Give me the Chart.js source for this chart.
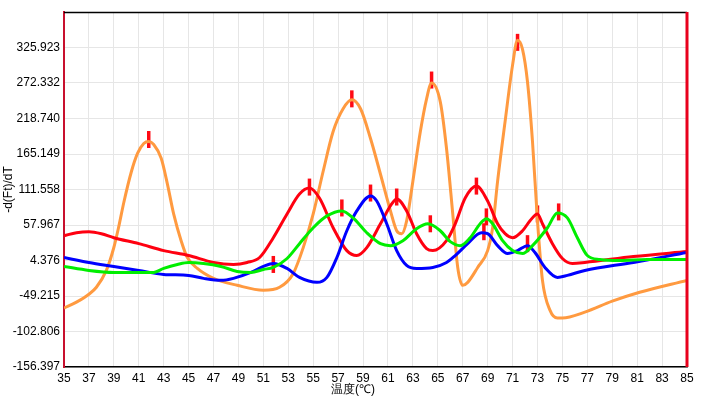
<!DOCTYPE html>
<html>
<head>
<meta charset="utf-8">
<script src="https://cdn.jsdelivr.net/npm/chart.js@4/dist/chart.umd.min.js"></script>
<style>
html,body{margin:0;padding:0;background:#fff;}
#wrap{width:706px;height:398px;position:relative;}
</style>
</head>
<body>
<div id="wrap"><canvas id="c" width="706" height="398"></canvas></div>
<script>
// ---- data ----
const xTicks = [35,37,39,41,43,45,47,49,51,53,55,57,59,61,63,65,67,69,71,73,75,77,79,81,83,85];
const yTicks = [-156.397,-102.806,-49.215,4.376,57.967,111.558,165.149,218.740,272.332,325.923];
const yMin = -156.397;
const yMax = 379.514;
const xTitle = '温度(℃)';
const yTitle = '-d(Ft)/dT';

const orangeT = [35.0,36.0,37.0,37.6,38.4,39.0,39.4,39.8,40.4,40.9,41.4,41.8,42.2,42.8,43.3,43.8,44.4,44.9,45.7,47.0,48.9,51.0,52.3,53.4,54.2,55.0,55.8,56.6,57.4,58.1,58.8,59.6,60.4,61.2,61.7,62.1,62.5,63.0,63.6,64.1,64.5,65.2,65.7,66.2,66.6,67.0,67.4,68.2,69.0,69.4,69.8,70.4,71.0,71.4,71.8,72.2,72.6,73.0,73.4,74.0,74.6,75.0,76.8,79.0,81.2,85.0];
const orangeV = [-67.5,-58.5,-46.5,-36.0,-10.6,24.0,56.0,92.0,138.0,166.0,181.0,184.0,179.5,158.6,119.7,74.7,34.3,8.9,-7.6,-22.6,-33.1,-40.5,-36.0,-15.1,23.8,74.7,139.1,199.0,233.4,246.9,233.4,188.5,134.6,79.2,49.3,44.8,64.3,124.1,199.0,248.4,272.3,243.9,173.5,74.7,-6.1,-33.1,-28.6,-6.1,19.3,53.8,124.1,214.0,299.3,336.7,323.2,273.8,184.0,64.3,-25.6,-70.5,-82.4,-82.4,-73.5,-57.0,-43.5,-25.6];

const redT = [35.0,36.0,37.0,38.0,39.0,41.0,43.0,45.0,47.0,48.6,49.7,50.7,51.8,52.9,53.9,54.7,55.5,56.6,57.7,58.5,59.3,60.4,61.3,61.7,62.5,63.3,64.1,64.6,65.7,66.4,67.2,68.1,69.0,69.8,70.4,71.0,71.8,72.4,73.0,73.4,74.2,75.0,75.8,76.8,80.7,85.0];
const redV = [41.8,46.3,47.8,44.8,38.8,29.8,19.3,11.9,1.4,-1.6,1.4,8.9,38.8,74.7,104.7,113.7,98.7,53.8,19.3,11.9,23.8,59.8,89.7,97.2,79.2,44.8,22.3,19.3,34.3,59.8,98.7,116.7,94.2,59.8,44.8,38.8,49.3,64.3,74.7,59.8,29.8,7.4,-0.1,1.4,10.4,17.9];

const blueT = [35.0,37.0,39.0,41.0,43.0,45.0,46.2,47.6,48.6,50.0,51.0,51.8,52.9,53.9,55.3,56.1,56.9,57.7,58.5,59.6,60.1,60.9,61.7,62.5,63.3,64.6,65.7,66.4,67.4,68.5,69.0,69.8,70.6,71.4,72.2,72.8,73.6,74.6,75.4,76.8,80.7,85.0];
const blueV = [8.9,1.4,-4.6,-10.6,-16.6,-18.1,-22.6,-25.6,-22.6,-13.6,-4.6,-0.1,-7.6,-21.1,-28.6,-21.1,8.9,49.3,79.2,101.7,94.2,59.8,19.3,-3.1,-7.6,-6.1,1.4,11.9,29.8,46.3,44.8,26.8,14.9,19.3,26.8,16.4,-6.1,-21.1,-18.1,-10.6,1.4,16.4];

const greenT = [35.0,37.0,39.0,41.0,42.2,43.0,44.1,45.0,46.2,47.6,48.9,50.0,51.0,51.8,52.9,53.9,55.0,56.1,57.3,58.2,59.3,60.4,61.2,62.2,63.3,64.2,65.2,66.0,66.8,67.6,68.4,68.9,69.4,70.2,71.0,71.8,72.6,73.8,74.6,75.4,76.2,77.0,78.0,79.6,81.8,85.0];
const greenV = [-4.6,-10.6,-13.6,-13.6,-13.6,-7.6,-1.6,1.4,-0.1,-4.6,-12.1,-13.6,-9.1,-6.1,7.4,29.8,53.8,71.7,79.2,68.7,46.3,29.8,26.8,34.3,52.3,59.8,49.3,32.8,26.8,38.8,59.8,67.3,59.8,34.3,19.3,14.9,26.8,53.8,76.2,68.7,38.8,11.9,5.9,4.4,5.9,5.9];

const peakT = [41.8,51.8,54.7,57.3,58.1,59.6,61.7,64.4,64.5,68.1,68.9,68.7,71.4,72.2,73.0,74.7];
const peakV = [187.0,-1.6,115.2,83.7,248.4,106.2,100.2,59.8,276.8,116.7,70.2,47.8,333.7,29.8,74.7,77.7];

const zip = (t, v) => t.map((x, i) => ({x: x, y: v[i]}));

const lineDs = (label, t, v, color) => ({
  label: label, type: 'line', data: zip(t, v), borderColor: color, backgroundColor: color,
  borderWidth: 3, pointRadius: 0, cubicInterpolationMode: 'monotone', fill: false
});

const framePlugin = {
  id: 'frame',
  afterDraw(chart) {
    const {ctx, chartArea: a} = chart;
    ctx.save();
    ctx.strokeStyle = '#000';
    ctx.lineWidth = 1.5;
    ctx.beginPath(); ctx.moveTo(a.left, a.top + 0.5); ctx.lineTo(a.right, a.top + 0.5); ctx.stroke();
    ctx.strokeStyle = '#e8001c';
    ctx.lineWidth = 3;
    ctx.beginPath(); ctx.moveTo(a.right, a.top); ctx.lineTo(a.right, a.bottom); ctx.stroke();
    ctx.fillStyle = '#000';
    ctx.font = '12px "Liberation Sans", Arial, sans-serif';
    ctx.textAlign = 'center';
    ctx.textBaseline = 'middle';
    ctx.fillText(xTitle, chart.width / 2, 390);
    ctx.restore();
  }
};

new Chart(document.getElementById('c'), {
  type: 'line',
  data: {
    datasets: [
      lineDs('green', greenT, greenV, '#00ee00'),
      lineDs('blue', blueT, blueV, '#0000ff'),
      lineDs('red', redT, redV, '#ff0010'),
      lineDs('orange', orangeT, orangeV, '#ff9a40'),
      {
        label: 'peaks', type: 'scatter', data: zip(peakT, peakV),
        pointStyle: 'line', rotation: 90, radius: 8.5, pointRadius: 8.5, borderWidth: 3.5,
        borderColor: '#ff0a14', backgroundColor: '#ff0a14', showLine: false
      }
    ]
  },
  options: {
    responsive: false,
    animation: false,
    devicePixelRatio: 1,
    layout: {padding: {left: 0, right: 19, top: 10, bottom: 0}},
    plugins: {legend: {display: false}, tooltip: {enabled: false}},
    scales: {
      x: {
        type: 'linear', min: 35, max: 85,
        afterBuildTicks: s => { s.ticks = xTicks.map(v => ({value: v})); },
        afterFit: s => { s.height = 31; },
        grid: {color: '#e6e6e6', lineWidth: 1, drawTicks: false},
        border: {color: '#000', width: 1.5},
        ticks: {color: '#000', padding: 4, font: {family: '"Liberation Sans", Arial, sans-serif', size: 12}, maxRotation: 0, autoSkip: false,
          callback: v => String(v)}
      },
      y: {
        type: 'linear', min: yMin, max: yMax,
        afterBuildTicks: s => { s.ticks = yTicks.map(v => ({value: v})); },
        afterFit: s => { s.width = 64; },
        grid: {color: '#e6e6e6', lineWidth: 1, drawTicks: false},
        border: {color: '#c8102e', width: 2},
        title: {display: true, text: yTitle, color: '#000', padding: {top: 1, bottom: 0},
          font: {family: '"Liberation Sans", Arial, sans-serif', size: 12}},
        ticks: {color: '#000', padding: 4, font: {family: '"Liberation Sans", Arial, sans-serif', size: 12},
          callback: v => Number(v).toFixed(3)}
      }
    }
  },
  plugins: [framePlugin]
});
</script>
</body>
</html>
